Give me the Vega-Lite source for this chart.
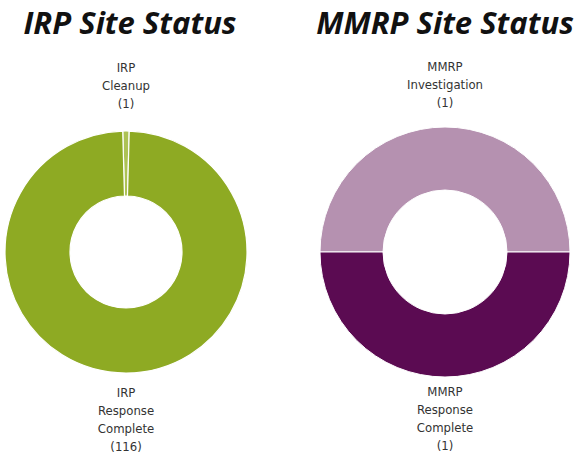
{
  "$schema": "https://vega.github.io/schema/vega-lite/v6.json",
  "background": "white",
  "padding": {"top": 9, "left": 0, "right": 0, "bottom": 0},
  "spacing": 64,
  "config": {"view": {"stroke": null}},
  "resolve": {"scale": {"color": "independent", "theta": "independent"}},
  "datasets": {
    "irp": [
      {"status": "IRP Cleanup", "count": 1, "label": "IRP\nCleanup\n(1)"},
      {"status": "IRP Response Complete", "count": 116, "label": "IRP\nResponse\nComplete\n(116)"}
    ],
    "mmrp": [
      {"status": "MMRP Investigation", "count": 1, "label": "MMRP\nInvestigation\n(1)"},
      {"status": "MMRP Response Complete", "count": 1, "label": "MMRP\nResponse\nComplete\n(1)"}
    ]
  },
  "hconcat": [
    {
      "width": 252,
      "height": 410,
      "title": {"text": "IRP Site Status", "font": "Open Sans", "fontSize": 31, "fontWeight": "bold", "fontStyle": "italic", "color": "#111111", "anchor": "middle", "offset": 6, "dx": 4},
      "data": {"name": "irp"},
      "encoding": {
        "theta": {"field": "count", "type": "quantitative", "stack": true, "scale": {"range": [-0.027, 6.256]}},
        "order": {"field": "status", "type": "nominal", "sort": "ascending"}
      },
      "layer": [
        {
          "mark": {"type": "arc", "innerRadius": 56, "outerRadius": 121, "stroke": "white", "strokeWidth": 1.2},
          "encoding": {
            "color": {"field": "status", "type": "nominal", "scale": {"domain": ["IRP Cleanup", "IRP Response Complete"], "range": ["#adc255", "#8eaa23"]}, "legend": null}
          }
        },
        {
          "mark": {"type": "text", "radius": 184, "lineBreak": "\n", "font": "'DejaVu Sans Condensed', 'Liberation Sans Narrow', sans-serif", "fontSize": 13, "lineHeight": 18, "color": "#333333", "align": "center", "baseline": "middle"},
          "encoding": {"text": {"condition": {"test": "indexof(datum.status, 'Response') < 0", "field": "label"}, "value": ""}}
        },
        {
          "mark": {"type": "text", "radius": 141, "lineBreak": "\n", "font": "'DejaVu Sans Condensed', 'Liberation Sans Narrow', sans-serif", "fontSize": 13, "lineHeight": 18, "color": "#333333", "align": "center", "baseline": "middle"},
          "encoding": {"text": {"condition": {"test": "indexof(datum.status, 'Response') >= 0", "field": "label"}, "value": ""}}
        }
      ]
    },
    {
      "width": 250,
      "height": 410,
      "title": {"text": "MMRP Site Status", "font": "Open Sans", "fontSize": 31, "fontWeight": "bold", "fontStyle": "italic", "color": "#111111", "anchor": "middle", "offset": 6},
      "data": {"name": "mmrp"},
      "encoding": {
        "theta": {"field": "count", "type": "quantitative", "stack": true, "scale": {"range": [-1.5708, 4.7124]}},
        "order": {"field": "status", "type": "nominal", "sort": "ascending"}
      },
      "layer": [
        {
          "mark": {"type": "arc", "innerRadius": 62, "outerRadius": 125, "stroke": "white", "strokeWidth": 1},
          "encoding": {
            "color": {"field": "status", "type": "nominal", "scale": {"domain": ["MMRP Investigation", "MMRP Response Complete"], "range": ["#b591b0", "#5b0b52"]}, "legend": null}
          }
        },
        {
          "mark": {"type": "text", "radius": 185, "lineBreak": "\n", "font": "'DejaVu Sans Condensed', 'Liberation Sans Narrow', sans-serif", "fontSize": 13, "lineHeight": 18, "color": "#333333", "align": "center", "baseline": "middle"},
          "encoding": {"text": {"condition": {"test": "indexof(datum.status, 'Response') < 0", "field": "label"}, "value": ""}}
        },
        {
          "mark": {"type": "text", "radius": 140, "lineBreak": "\n", "font": "'DejaVu Sans Condensed', 'Liberation Sans Narrow', sans-serif", "fontSize": 13, "lineHeight": 18, "color": "#333333", "align": "center", "baseline": "middle"},
          "encoding": {"text": {"condition": {"test": "indexof(datum.status, 'Response') >= 0", "field": "label"}, "value": ""}}
        }
      ]
    }
  ]
}
